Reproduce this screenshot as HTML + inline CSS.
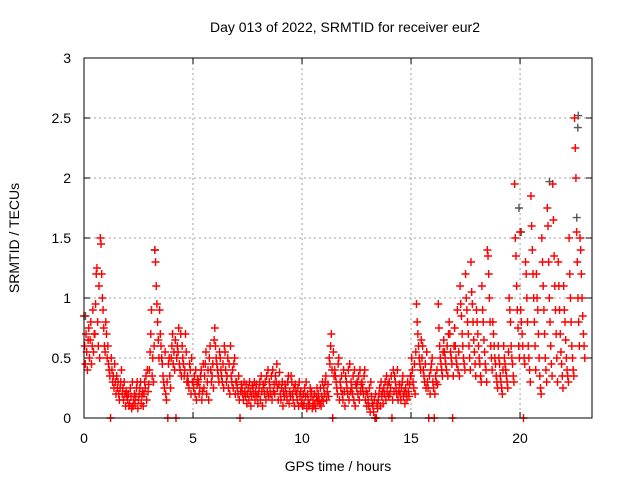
<!DOCTYPE html>
<html><head><meta charset="utf-8"><style>
body{margin:0;background:#fff}
svg{display:block;font-family:"Liberation Sans",sans-serif}
</style></head><body>
<svg id="chart" width="640" height="480">
<text x="345" y="32" text-anchor="middle" font-size="14">Day 013 of 2022, SRMTID for receiver eur2</text>
<text x="338" y="471" text-anchor="middle" font-size="14">GPS time / hours</text>
<text transform="translate(19,238) rotate(-90)" text-anchor="middle" font-size="14">SRMTID / TECUs</text>
<g id="grid"></g><g id="ticks"></g><g id="pts"></g>
<rect x="84" y="58" width="508" height="360" fill="none" stroke="#000"/>
</svg>
<script>
const xTicks=[0,5,10,15,20];
const yTicks=[0,0.5,1,1.5,2,2.5,3];
const yTickLabels=["0","0.5","1","1.5","2","2.5","3"];
const binWidth=0.25;
const redBins=[
[.85,.6,.45,.7,.55,.4,.65,.75],[.5,.65,.8,.45,.6,.9,.55,.7],[.7,.95,1.2,1.25,.8,.6,1.1,.5],[1.5,1.45,1.2,1.0,.9,.75,.6,.55],
[.8,.7,.5,.6,.45,.4,.35,0],[.5,.4,.3,.35,.25,.45,.3,.2],[.35,.25,.3,.2,.15,.25,.3,.4],[.2,.25,.15,.3,.2,.1,.22,.18],
[.15,.2,.1,.12,.25,.18,.08,.3],[.1,.15,.2,.12,.18,.25,.3,.08],[.15,.2,.25,.3,.12,.18,.22,.1],[.2,.3,.25,.35,.15,.4,.22,.28],
[.4,.55,.7,.9,.35,.5,.3,.6],[1.4,1.3,1.1,.95,.8,.65,.5,.9],[.7,.6,.5,.45,.35,.3,.25,.55],[.2,.15,.3,0,.45,.5,.35,.25],
[.5,.6,.7,.45,.55,.4,.65,0],[.5,.6,.55,.75,.45,.4,.7,.35],[.6,.5,.45,.35,.4,.7,.55,.3],[.35,.3,.25,.45,.4,.2,.5,.3],
[.3,.25,.35,.2,.4,.15,.28,.32],[.3,.2,.25,.35,.4,.15,.22,.45],[.25,.35,.45,.55,.2,.3,.4,.15],[.5,.6,.4,.3,.35,.45,.25,.65],
[.75,.6,.5,.45,.4,.35,.3,.55],[.5,.4,.35,.3,.45,.25,.6,.55],[.4,.3,.35,.5,.25,.45,.2,.6],[.35,.3,.4,.25,.45,.5,.2,.3],
[.3,.25,.2,.35,.15,0,.22,.28],[.25,.2,.15,.3,.22,.18,.28,.12],[.2,.25,.15,.3,.22,.1,.18,.27],[.25,.2,.3,.15,.22,.28,.18,.12],
[.2,.25,.3,.15,.35,.22,.1,.28],[.25,.2,.3,.15,.35,.22,.4,.18],[.3,.25,.2,.35,.15,.4,.22,.28],[.2,.35,.3,.45,.25,.15,.28,.38],
[.2,.15,.25,.3,.1,.22,.18,.28],[.25,.2,.15,.3,.35,.12,.22,.18],[.35,.3,.2,.15,.25,.1,.28,.22],[.2,.15,.25,.1,.3,.18,.22,.12],
[.15,.1,.2,.12,.25,.18,.3,.08],[.2,.15,.1,.12,.25,.18,.22,.08],[.15,.1,.2,.12,.08,.18,.25,.14],[.2,.15,.12,.25,.1,.18,.3,.14],
[.25,.2,.3,.35,.15,.22,.28,.18],[.5,.45,.6,.7,.4,0,.55,.35],[.4,.35,.3,.25,.2,.45,.5,.15],[.3,.25,.35,.2,.15,.4,.22,.1],
[.35,.3,.25,.2,.4,.15,.45,.22],[.3,.25,.2,.35,.15,.4,.1,.28],[.25,.3,.2,.35,.15,.4,.22,.28],[.3,.25,.2,.35,.4,.15,.22,.1],
[.2,.15,.1,.25,.05,.3,.18,.12],[.1,.05,.15,0,.2,0,.12,.08],[.15,.2,.25,.1,.3,.18,.22,.12],[.25,.2,.3,.15,.35,.22,.28,.18],
[.3,.2,.25,.35,0,.15,.4,.22],[.35,.3,.25,.2,.4,.15,.22,.28],[.2,.15,.25,.3,.35,.18,.22,.12],[.25,.2,.15,.3,.22,.18,.28,.35],
[.35,.5,.4,.3,.25,.45,.2,.55],[.95,.8,.7,.6,.5,.45,.4,.65],[.5,.6,.4,.35,.3,.45,.25,.55],[.3,.25,0,.35,.2,.4,.45,.5],
[.3,.25,0,.2,.35,.3,.4,.28],[.95,.75,.6,.5,.45,.4,.35,.55],[.65,.55,.5,.45,.4,.6,.35,.7],[.8,.7,.55,.5,.45,0,.35,.6],
[.75,.6,.5,.45,.9,.4,.55,.35],[1.1,.95,.85,.7,.6,.5,.45,.4],[1.2,1.0,.9,.8,.7,.6,.5,.4],[1.3,1.05,.95,.8,.65,.55,.45,.35],
[.9,.8,.7,.6,.5,.45,.35,.3],[1.1,.9,.8,.65,.55,.45,.4,.3],[1.4,1.35,1.2,1.0,.8,.6,.5,.4],[.8,.7,.6,.5,.45,.35,.3,.25],
[.6,.5,.45,.35,.3,.25,.2,.4],[.6,.5,.45,.4,.35,.3,.25,.55],[1.0,.9,.8,.6,.5,.45,.35,.3],[1.95,1.5,1.35,1.1,.9,.75,.6,.5],
[1.55,.9,.8,.7,.6,0,.5,.45],[1.3,1.2,1.0,.8,.6,.5,.4,.3],[1.85,1.6,1.4,1.2,1.0,.8,.6,.4],[1.2,1.0,.9,.7,.5,.35,.25,.2],
[1.5,1.3,1.1,.9,.7,.5,.4,.3],[1.75,1.6,1.3,1.0,.8,.6,.45,.35],[1.95,1.65,1.35,1.1,.9,.7,.5,.3],[1.3,1.1,.9,.7,.55,.45,.35,.25],
[1.1,.9,.8,.65,.5,.4,.35,.3],[1.5,1.2,1.0,.8,.6,.5,.4,.35],[2.5,2.25,2.0,1.55,1.3,1.0,.8,.6],[1.5,1.4,1.2,1.0,.85,.7,.6,.5]
];
const grayTimes=[0.02,3.2,19.9,20.0,21.3,22.55,22.6,22.62];
const grayValues=[0.85,1.4,1.75,1.55,1.97,1.67,2.42,2.52];
const X0=84,X1=592,Y0=418,Y1=58,XMAX=23.3,YMAX=3;
const xs=t=>X0+t/XMAX*(X1-X0);
const ys=v=>Y0-v/YMAX*(Y0-Y1);
const NS="http://www.w3.org/2000/svg";
function mk(tag,attrs,parent){const e=document.createElementNS(NS,tag);for(const k in attrs)e.setAttribute(k,attrs[k]);parent.appendChild(e);return e;}
const grid=document.getElementById('grid'),ticks=document.getElementById('ticks'),pts=document.getElementById('pts');
xTicks.forEach(t=>{const x=xs(t);
 if(t>0){const g=mk('line',{x1:x,x2:x,y1:Y1,y2:Y0,stroke:'#a0a0a0','stroke-dasharray':'2,3'},grid);
 
 }
 mk('line',{x1:x,x2:x,y1:Y0,y2:Y0-6,stroke:'#000'},ticks);mk('line',{x1:x,x2:x,y1:Y1,y2:Y1+6,stroke:'#000'},ticks);
 const l=mk('text',{x:x,y:443,'text-anchor':'middle','font-size':14},ticks);l.textContent=t;
 
 });
yTicks.forEach((v,i)=>{const y=ys(v);
 if(v>0&&v<YMAX){const g=mk('line',{x1:X0,x2:X1,y1:y,y2:y,stroke:'#a0a0a0','stroke-dasharray':'2,3'},grid);
 
 }
 mk('line',{x1:X0,x2:X0+6,y1:y,y2:y,stroke:'#000'},ticks);mk('line',{x1:X1,x2:X1-6,y1:y,y2:y,stroke:'#000'},ticks);
 const l=mk('text',{x:71,y:y+5,'text-anchor':'end','font-size':14},ticks);l.textContent=yTickLabels[i];
 
 });
function plus(t,v,c){const x=xs(t),y=ys(v);
 const p=mk('path',{d:`M${x-4},${y}H${x+4}M${x},${y-4}V${y+4}`,stroke:c,'stroke-width':1.4,fill:'none'},pts);
 
 }
grayTimes.forEach((t,i)=>plus(t+0.05,grayValues[i],'#555'));
redBins.forEach((bin,b)=>bin.forEach((v,j)=>plus(b*binWidth+j*binWidth/bin.length,v,'#f00')));
</script>
</body></html>
